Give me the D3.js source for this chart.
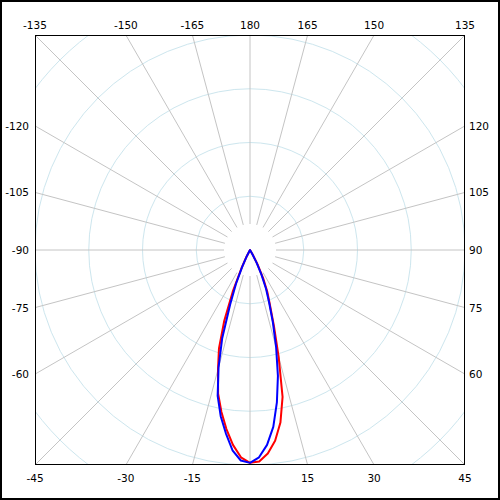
<!DOCTYPE html>
<html lang="en">
<head>
    <meta charset="UTF-8">
    <title>Polar intensity diagram</title>
    <style>
        body { margin: 0; background: #fff; }
        svg text { font-family: "DejaVu Sans", sans-serif; font-size: 10.5px; fill: #000; }
    </style>
</head>
<body>
    <script src="https://d3js.org/d3.v7.min.js"></script>
    <script>
        // gamma angles (degrees, 0 = straight down, + = right side)
        var angles = [-32.5, -30, -27.5, -25, -22.5, -20, -17.5, -15, -12.5, -10, -7.5, -5, -2.5,
                      0, 2.5, 5, 7.5, 10, 12.5, 15, 17.5, 20, 22.5, 25, 27.5, 30, 32.5];
        var redValues  = [0, 0, 7, 19, 42, 70, 96, 115, 137, 153, 168, 182, 193,
                          198, 197, 190, 179, 163, 140, 103, 74, 54, 42, 29, 16, 6, 0];
        var blueValues = [0, 0, 6, 17, 34, 54, 86, 113, 139, 157, 172, 187, 196,
                          198, 193, 182, 166, 144, 120, 94, 71, 52, 39, 25, 13, 4, 0];

        var ringValues = [50, 100, 150, 200, 250];
        var spokeAngles = [0, 15, 30, 45, 60, 75, 90, 105, 120, 135, 150, 165, 180,
                           195, 210, 225, 240, 255, 270, 285, 300, 315, 330, 345];
        var bottomLabels = [-45, -30, -15, 15, 30, 45];
        var leftLabels = [-60, -75, -90, -105, -120];
        var topLabels = [-135, -150, -165, 180, 165, 150, 135];
        var rightLabels = [60, 75, 90, 105, 120];

        var W = 500, H = 500;
        var cx = 250, cy = 250, half = 215;

        var svg = d3.select("body").append("svg")
            .attr("width", W)
            .attr("height", H);

        // outer frame
        svg.append("rect")
            .attr("x", 1).attr("y", 1)
            .attr("width", W - 2).attr("height", H - 2)
            .attr("fill", "#fff")
            .attr("stroke", "#000")
            .attr("stroke-width", 2);

        svg.append("clipPath").attr("id", "plotclip")
            .append("rect")
            .attr("x", -half).attr("y", -half)
            .attr("width", half * 2).attr("height", half * 2);

        var r = d3.scaleLinear().domain([0, 200]).range([0, half]);
        var rad = function(deg) { return deg * Math.PI / 180; };

        var plot = svg.append("g")
            .attr("transform", "translate(" + cx + "," + cy + ")");
        var grid = plot.append("g").attr("clip-path", "url(#plotclip)");

        // circles
        grid.selectAll(".ring")
            .data(ringValues)
            .enter()
            .append("circle")
            .attr("class", "ring")
            .attr("r", function(d) { return r(d); })
            .attr("fill", "none")
            .attr("stroke", "#cde6ee")
            .attr("stroke-width", 1);

        // spokes
        grid.selectAll(".spoke")
            .data(spokeAngles)
            .enter()
            .append("line")
            .attr("class", "spoke")
            .attr("x1", function(d) { return 26 * Math.sin(rad(d)); })
            .attr("y1", function(d) { return 26 * Math.cos(rad(d)); })
            .attr("x2", function(d) { return 400 * Math.sin(rad(d)); })
            .attr("y2", function(d) { return 400 * Math.cos(rad(d)); })
            .attr("stroke", "#c4c4c4")
            .attr("stroke-width", 1);

        // curves
        var line = d3.lineRadial()
            .angle(function(d) { return Math.PI - rad(d[0]); })
            .radius(function(d) { return r(d[1]); });

        var series = [
            { color: "#ff0000", values: redValues },
            { color: "#0000ff", values: blueValues }
        ];
        series.forEach(function(s) {
            var pts = angles.map(function(a, i) { return [a, s.values[i]]; });
            plot.append("path")
                .attr("d", line(pts) + "Z")
                .attr("fill", "none")
                .attr("stroke", s.color)
                .attr("stroke-width", 2)
                .attr("stroke-linejoin", "round");
        });

        // plot border
        svg.append("rect")
            .attr("x", cx - half + 0.5).attr("y", cy - half + 0.5)
            .attr("width", half * 2 - 1).attr("height", half * 2 - 1)
            .attr("fill", "none")
            .attr("stroke", "#000")
            .attr("stroke-width", 1);

        // where a spoke meets the square
        function edge(deg) {
            var s = Math.sin(rad(deg)), c = Math.cos(rad(deg));
            var t = half / Math.max(Math.abs(s), Math.abs(c));
            return [cx + t * s, cy + t * c];
        }

        svg.selectAll(".lb").data(bottomLabels).enter().append("text")
            .attr("x", function(d) { return edge(d)[0]; })
            .attr("y", 482)
            .attr("text-anchor", "middle")
            .text(function(d) { return d; });

        svg.selectAll(".lt").data(topLabels).enter().append("text")
            .attr("x", function(d) { return edge(d)[0]; })
            .attr("y", 29)
            .attr("text-anchor", "middle")
            .text(function(d) { return d; });

        svg.selectAll(".ll").data(leftLabels).enter().append("text")
            .attr("x", 29)
            .attr("y", function(d) { return edge(d)[1] + 4; })
            .attr("text-anchor", "end")
            .text(function(d) { return d; });

        svg.selectAll(".lr").data(rightLabels).enter().append("text")
            .attr("x", 469)
            .attr("y", function(d) { return edge(d)[1] + 4; })
            .attr("text-anchor", "start")
            .text(function(d) { return d; });
    </script>
</body>
</html>
